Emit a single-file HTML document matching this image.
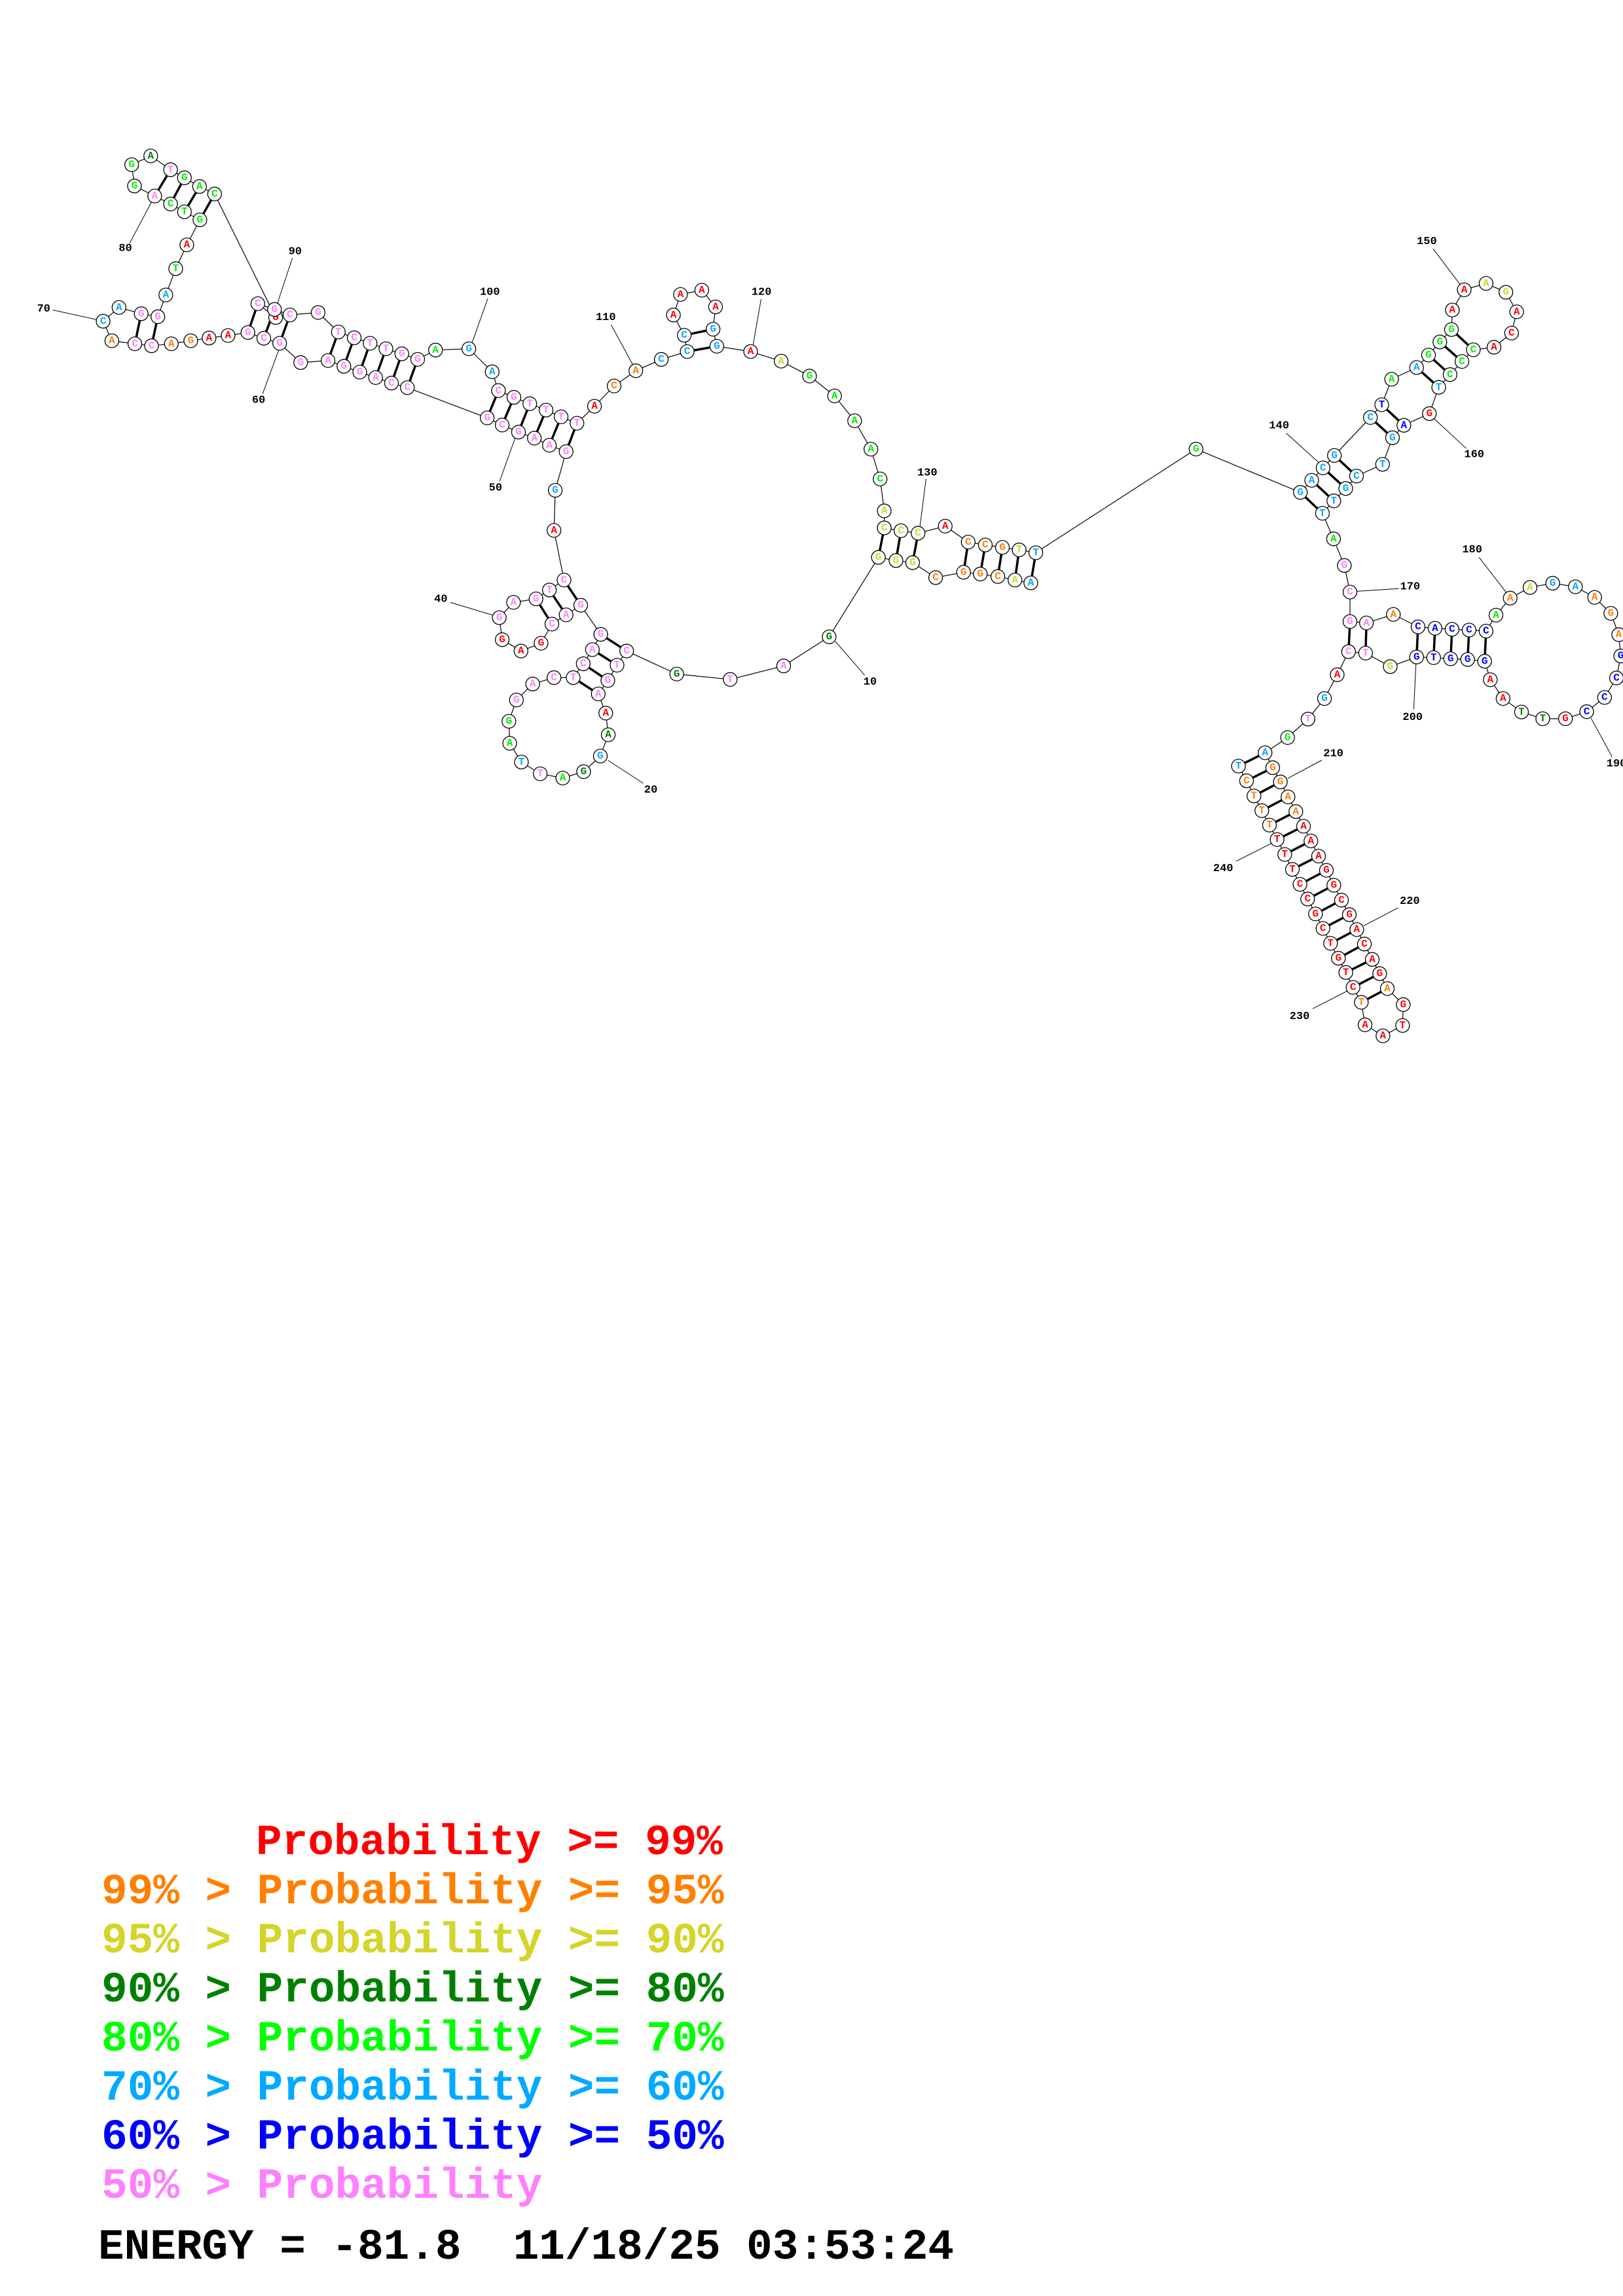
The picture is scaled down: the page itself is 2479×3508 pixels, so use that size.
<!DOCTYPE html>
<html><head><meta charset="utf-8"><style>
html,body{margin:0;padding:0;background:#fff;width:2479px;height:3508px;overflow:hidden}
svg{display:block}
circle{r:10.5px;fill:#fff;stroke:#000;stroke-width:1.3px}
.n text{font-family:"Liberation Mono",monospace;font-weight:bold;font-size:16px;text-anchor:middle;dominant-baseline:central}
.n text.lb{font-size:17px;fill:#000}
.r{fill:#ff0000}.o{fill:#ff8000}.y{fill:#d4d42a}.d{fill:#008000}.g{fill:#00ee00}.c{fill:#00aaff}.b{fill:#0000ff}.p{fill:#ff80ff}
.bb{fill:none;stroke:#000;stroke-width:1.2px}
.pr{stroke:#000;stroke-width:3.5px}
.ll{stroke:#000;stroke-width:1px}
.z1 .n>*{transform:scale(1.65053,2.61333)}
.z2 .n>*{transform:scale(1.568,1.84471)}
.z3 .n>*{transform:scale(2.30928,1.84471)}
.z4 .n>*{transform:scale(3,2.851)}
.leg{font-family:"Liberation Mono","Courier New",monospace;font-weight:bold;font-size:66px}
</style></head><body>
<svg width="2479" height="3508" viewBox="0 0 2479 3508" xmlns="http://www.w3.org/2000/svg">
<!-- cross-region backbone -->
<line class="bb" x1="744.1" y1="638.5" x2="622.4" y2="592.3"/>
<line class="bb" x1="716.4" y1="533.0" x2="751.8" y2="568.0"/>
<line class="bb" x1="1582.1" y1="844.4" x2="1826.9" y2="686.1"/>
<line class="bb" x1="1966.7" y1="1126.7" x2="1932.3" y2="1150.2"/>

<!-- REGION 1 -->
<g class="z1" transform="translate(0,200) scale(0.60586,0.38265)">
<polyline class="bb" vector-effect="non-scaling-stroke" points="1027,1025 987,1007 947,985 907,963 867,940 827,917 758,925 705,848 665,828 625,805 575,817 527,827 481,838 432,850 382,858 340,850 282,838 260,760 300,705 356,730 398,742 418,655 443,550 471,455 504,355 465,323 430,292 390,260 339,220 332,135 380,100 430,155 465,187 503,222 541,252 695,745 650,690 692,713 731,735 802,725 853,803 893,826 933,848 973,870 1013,890 1053,912 1098,875 1182,870"/>
<g vector-effect="non-scaling-stroke">
<line class="pr" vector-effect="non-scaling-stroke" x1="625" y1="805" x2="650" y2="690"/>
<line class="pr" vector-effect="non-scaling-stroke" x1="665" y1="828" x2="692" y2="713"/>
<line class="pr" vector-effect="non-scaling-stroke" x1="705" y1="848" x2="731" y2="735"/>
<line class="pr" vector-effect="non-scaling-stroke" x1="827" y1="917" x2="853" y2="803"/>
<line class="pr" vector-effect="non-scaling-stroke" x1="867" y1="940" x2="893" y2="826"/>
<line class="pr" vector-effect="non-scaling-stroke" x1="907" y1="963" x2="933" y2="848"/>
<line class="pr" vector-effect="non-scaling-stroke" x1="947" y1="985" x2="973" y2="870"/>
<line class="pr" vector-effect="non-scaling-stroke" x1="987" y1="1007" x2="1013" y2="890"/>
<line class="pr" vector-effect="non-scaling-stroke" x1="1027" y1="1025" x2="1053" y2="912"/>
<line class="pr" vector-effect="non-scaling-stroke" x1="340" y1="850" x2="356" y2="730"/>
<line class="pr" vector-effect="non-scaling-stroke" x1="382" y1="858" x2="398" y2="742"/>
<line class="pr" vector-effect="non-scaling-stroke" x1="390" y1="260" x2="430" y2="155"/>
<line class="pr" vector-effect="non-scaling-stroke" x1="430" y1="292" x2="465" y2="187"/>
<line class="pr" vector-effect="non-scaling-stroke" x1="465" y1="323" x2="503" y2="222"/>
<line class="pr" vector-effect="non-scaling-stroke" x1="504" y1="355" x2="541" y2="252"/>
</g>
<line class="ll" vector-effect="non-scaling-stroke" x1="327" y1="448" x2="385" y2="275"/>
<line class="ll" vector-effect="non-scaling-stroke" x1="737" y1="508" x2="697" y2="700"/>
<line class="ll" vector-effect="non-scaling-stroke" x1="133" y1="715" x2="248" y2="755"/>
<line class="ll" vector-effect="non-scaling-stroke" x1="662" y1="1050" x2="705" y2="865"/>
<line class="ll" vector-effect="non-scaling-stroke" x1="1230" y1="668" x2="1188" y2="855"/>
<g class="n" transform="translate(316,470)"><text class="lb">80</text></g>
<g class="n" transform="translate(744,483)"><text class="lb">90</text></g>
<g class="n" transform="translate(110,712)"><text class="lb">70</text></g>
<g class="n" transform="translate(652,1077)"><text class="lb">60</text></g>
<g class="n" transform="translate(1235,645)"><text class="lb">100</text></g>
<g class="n" transform="translate(1027,1025)"><circle/><text class="p">C</text></g>
<g class="n" transform="translate(987,1007)"><circle/><text class="p">C</text></g>
<g class="n" transform="translate(947,985)"><circle/><text class="p">A</text></g>
<g class="n" transform="translate(907,963)"><circle/><text class="p">G</text></g>
<g class="n" transform="translate(867,940)"><circle/><text class="p">G</text></g>
<g class="n" transform="translate(827,917)"><circle/><text class="p">A</text></g>
<g class="n" transform="translate(758,925)"><circle/><text class="p">G</text></g>
<g class="n" transform="translate(705,848)"><circle/><text class="p">G</text></g>
<g class="n" transform="translate(665,828)"><circle/><text class="p">C</text></g>
<g class="n" transform="translate(625,805)"><circle/><text class="p">G</text></g>
<g class="n" transform="translate(575,817)"><circle/><text class="r">A</text></g>
<g class="n" transform="translate(527,827)"><circle/><text class="r">A</text></g>
<g class="n" transform="translate(481,838)"><circle/><text class="o">G</text></g>
<g class="n" transform="translate(432,850)"><circle/><text class="o">A</text></g>
<g class="n" transform="translate(382,858)"><circle/><text class="p">C</text></g>
<g class="n" transform="translate(340,850)"><circle/><text class="p">C</text></g>
<g class="n" transform="translate(282,838)"><circle/><text class="o">A</text></g>
<g class="n" transform="translate(260,760)"><circle/><text class="c">C</text></g>
<g class="n" transform="translate(300,705)"><circle/><text class="c">A</text></g>
<g class="n" transform="translate(356,730)"><circle/><text class="p">G</text></g>
<g class="n" transform="translate(398,742)"><circle/><text class="p">G</text></g>
<g class="n" transform="translate(418,655)"><circle/><text class="c">A</text></g>
<g class="n" transform="translate(443,550)"><circle/><text class="g">T</text></g>
<g class="n" transform="translate(471,455)"><circle/><text class="r">A</text></g>
<g class="n" transform="translate(504,355)"><circle/><text class="g">G</text></g>
<g class="n" transform="translate(465,323)"><circle/><text class="g">T</text></g>
<g class="n" transform="translate(430,292)"><circle/><text class="g">C</text></g>
<g class="n" transform="translate(390,260)"><circle/><text class="p">A</text></g>
<g class="n" transform="translate(339,220)"><circle/><text class="g">G</text></g>
<g class="n" transform="translate(332,135)"><circle/><text class="g">G</text></g>
<g class="n" transform="translate(380,100)"><circle/><text class="d">A</text></g>
<g class="n" transform="translate(430,155)"><circle/><text class="p">T</text></g>
<g class="n" transform="translate(465,187)"><circle/><text class="g">G</text></g>
<g class="n" transform="translate(503,222)"><circle/><text class="g">A</text></g>
<g class="n" transform="translate(541,252)"><circle/><text class="g">C</text></g>
<g class="n" transform="translate(695,745)"><circle/><text class="r">G</text></g>
<g class="n" transform="translate(650,690)"><circle/><text class="p">C</text></g>
<g class="n" transform="translate(692,713)"><circle/><text class="p">G</text></g>
<g class="n" transform="translate(731,735)"><circle/><text class="p">C</text></g>
<g class="n" transform="translate(802,725)"><circle/><text class="p">G</text></g>
<g class="n" transform="translate(853,803)"><circle/><text class="p">T</text></g>
<g class="n" transform="translate(893,826)"><circle/><text class="p">C</text></g>
<g class="n" transform="translate(933,848)"><circle/><text class="p">T</text></g>
<g class="n" transform="translate(973,870)"><circle/><text class="p">T</text></g>
<g class="n" transform="translate(1013,890)"><circle/><text class="p">G</text></g>
<g class="n" transform="translate(1053,912)"><circle/><text class="p">G</text></g>
<g class="n" transform="translate(1098,875)"><circle/><text class="g">A</text></g>
<g class="n" transform="translate(1182,870)"><circle/><text class="c">G</text></g>
</g>

<!-- REGION 2 -->
<g class="z2" transform="translate(600,400) scale(0.63776,0.54209)">
<polyline class="bb" vector-effect="non-scaling-stroke" points="1528,905 1490,897 1449,887 1407,880 1367,875 1300,890 1245,848 1205,842 1163,833 1045,1057 936,1139 808,1177 680,1162 560,1097 537,1137 515,1180 492,1218 510,1272 516,1333 497,1393 457,1437 407,1455 353,1443 308,1410 280,1357 278,1295 296,1235 335,1190 386,1172 432,1172 456,1133 478,1093 498,1050 450,968 415,995 381,1021 355,1075 307,1097 262,1065 255,1003 289,960 343,950 375,925 410,897 386,757 389,644 415,535 375,517 339,497 301,480 262,460 226,440"/>
<polyline class="bb" vector-effect="non-scaling-stroke" points="238,310 253,363 290,382 328,400 367,418 403,437 441,455 483,407 530,350 582,307 643,275 705,253 698,207 672,150 689,92 740,80 773,127 767,190 776,238 857,253 930,280 998,322 1058,378 1106,448 1145,528 1167,612 1177,702 1177,750 1217,758 1258,765 1323,745 1378,790 1419,798 1460,805 1500,812 1540,820"/>
<line class="pr" vector-effect="non-scaling-stroke" x1="1378" y1="790" x2="1367" y2="875"/>
<line class="pr" vector-effect="non-scaling-stroke" x1="1419" y1="798" x2="1407" y2="880"/>
<line class="pr" vector-effect="non-scaling-stroke" x1="1460" y1="805" x2="1449" y2="887"/>
<line class="pr" vector-effect="non-scaling-stroke" x1="1500" y1="812" x2="1490" y2="897"/>
<line class="pr" vector-effect="non-scaling-stroke" x1="1540" y1="820" x2="1528" y2="905"/>
<line class="pr" vector-effect="non-scaling-stroke" x1="1177" y1="750" x2="1163" y2="833"/>
<line class="pr" vector-effect="non-scaling-stroke" x1="1217" y1="758" x2="1205" y2="842"/>
<line class="pr" vector-effect="non-scaling-stroke" x1="1258" y1="765" x2="1245" y2="848"/>
<line class="pr" vector-effect="non-scaling-stroke" x1="253" y1="363" x2="226" y2="440"/>
<line class="pr" vector-effect="non-scaling-stroke" x1="290" y1="382" x2="262" y2="460"/>
<line class="pr" vector-effect="non-scaling-stroke" x1="328" y1="400" x2="301" y2="480"/>
<line class="pr" vector-effect="non-scaling-stroke" x1="367" y1="418" x2="339" y2="497"/>
<line class="pr" vector-effect="non-scaling-stroke" x1="403" y1="437" x2="375" y2="517"/>
<line class="pr" vector-effect="non-scaling-stroke" x1="441" y1="455" x2="415" y2="535"/>
<line class="pr" vector-effect="non-scaling-stroke" x1="698" y1="207" x2="767" y2="190"/>
<line class="pr" vector-effect="non-scaling-stroke" x1="705" y1="253" x2="776" y2="238"/>
<line class="pr" vector-effect="non-scaling-stroke" x1="343" y1="950" x2="381" y2="1021"/>
<line class="pr" vector-effect="non-scaling-stroke" x1="375" y1="925" x2="415" y2="995"/>
<line class="pr" vector-effect="non-scaling-stroke" x1="410" y1="897" x2="450" y2="968"/>
<line class="pr" vector-effect="non-scaling-stroke" x1="498" y1="1050" x2="560" y2="1097"/>
<line class="pr" vector-effect="non-scaling-stroke" x1="478" y1="1093" x2="537" y2="1137"/>
<line class="pr" vector-effect="non-scaling-stroke" x1="456" y1="1133" x2="515" y2="1180"/>
<line class="pr" vector-effect="non-scaling-stroke" x1="432" y1="1172" x2="492" y2="1218"/>
<line class="ll" vector-effect="non-scaling-stroke" x1="256" y1="618" x2="295" y2="490"/>
<line class="ll" vector-effect="non-scaling-stroke" x1="138" y1="960" x2="245" y2="998"/>
<line class="ll" vector-effect="non-scaling-stroke" x1="600" y1="1470" x2="515" y2="1405"/>
<line class="ll" vector-effect="non-scaling-stroke" x1="1130" y1="1165" x2="1060" y2="1070"/>
<line class="ll" vector-effect="non-scaling-stroke" x1="523" y1="178" x2="577" y2="295"/>
<line class="ll" vector-effect="non-scaling-stroke" x1="882" y1="105" x2="862" y2="240"/>
<line class="ll" vector-effect="non-scaling-stroke" x1="1277" y1="612" x2="1262" y2="750"/>
<g class="n" transform="translate(246,638)"><text class="lb">50</text></g>
<g class="n" transform="translate(115,952)"><text class="lb">40</text></g>
<g class="n" transform="translate(618,1490)"><text class="lb">20</text></g>
<g class="n" transform="translate(1143,1185)"><text class="lb">10</text></g>
<g class="n" transform="translate(510,158)"><text class="lb">110</text></g>
<g class="n" transform="translate(883,87)"><text class="lb">120</text></g>
<g class="n" transform="translate(1280,596)"><text class="lb">130</text></g>
<g class="n" transform="translate(1528,905)"><circle/><text class="c">A</text></g>
<g class="n" transform="translate(1490,897)"><circle/><text class="y">A</text></g>
<g class="n" transform="translate(1449,887)"><circle/><text class="o">C</text></g>
<g class="n" transform="translate(1407,880)"><circle/><text class="o">G</text></g>
<g class="n" transform="translate(1367,875)"><circle/><text class="o">G</text></g>
<g class="n" transform="translate(1300,890)"><circle/><text class="o">C</text></g>
<g class="n" transform="translate(1245,848)"><circle/><text class="y">G</text></g>
<g class="n" transform="translate(1205,842)"><circle/><text class="y">G</text></g>
<g class="n" transform="translate(1163,833)"><circle/><text class="y">G</text></g>
<g class="n" transform="translate(1045,1057)"><circle/><text class="d">G</text></g>
<g class="n" transform="translate(936,1139)"><circle/><text class="p">A</text></g>
<g class="n" transform="translate(808,1177)"><circle/><text class="p">T</text></g>
<g class="n" transform="translate(680,1162)"><circle/><text class="d">G</text></g>
<g class="n" transform="translate(560,1097)"><circle/><text class="p">C</text></g>
<g class="n" transform="translate(537,1137)"><circle/><text class="p">T</text></g>
<g class="n" transform="translate(515,1180)"><circle/><text class="p">G</text></g>
<g class="n" transform="translate(492,1218)"><circle/><text class="p">A</text></g>
<g class="n" transform="translate(510,1272)"><circle/><text class="r">A</text></g>
<g class="n" transform="translate(516,1333)"><circle/><text class="d">A</text></g>
<g class="n" transform="translate(497,1393)"><circle/><text class="c">G</text></g>
<g class="n" transform="translate(457,1437)"><circle/><text class="d">G</text></g>
<g class="n" transform="translate(407,1455)"><circle/><text class="g">A</text></g>
<g class="n" transform="translate(353,1443)"><circle/><text class="p">T</text></g>
<g class="n" transform="translate(308,1410)"><circle/><text class="c">T</text></g>
<g class="n" transform="translate(280,1357)"><circle/><text class="g">A</text></g>
<g class="n" transform="translate(278,1295)"><circle/><text class="g">G</text></g>
<g class="n" transform="translate(296,1235)"><circle/><text class="p">G</text></g>
<g class="n" transform="translate(335,1190)"><circle/><text class="p">A</text></g>
<g class="n" transform="translate(386,1172)"><circle/><text class="p">C</text></g>
<g class="n" transform="translate(432,1172)"><circle/><text class="p">T</text></g>
<g class="n" transform="translate(456,1133)"><circle/><text class="p">C</text></g>
<g class="n" transform="translate(478,1093)"><circle/><text class="p">A</text></g>
<g class="n" transform="translate(498,1050)"><circle/><text class="p">G</text></g>
<g class="n" transform="translate(450,968)"><circle/><text class="p">G</text></g>
<g class="n" transform="translate(415,995)"><circle/><text class="p">A</text></g>
<g class="n" transform="translate(381,1021)"><circle/><text class="p">C</text></g>
<g class="n" transform="translate(355,1075)"><circle/><text class="r">G</text></g>
<g class="n" transform="translate(307,1097)"><circle/><text class="r">A</text></g>
<g class="n" transform="translate(262,1065)"><circle/><text class="r">G</text></g>
<g class="n" transform="translate(255,1003)"><circle/><text class="p">G</text></g>
<g class="n" transform="translate(289,960)"><circle/><text class="p">A</text></g>
<g class="n" transform="translate(343,950)"><circle/><text class="p">G</text></g>
<g class="n" transform="translate(375,925)"><circle/><text class="p">T</text></g>
<g class="n" transform="translate(410,897)"><circle/><text class="p">C</text></g>
<g class="n" transform="translate(386,757)"><circle/><text class="r">A</text></g>
<g class="n" transform="translate(389,644)"><circle/><text class="c">G</text></g>
<g class="n" transform="translate(415,535)"><circle/><text class="p">G</text></g>
<g class="n" transform="translate(375,517)"><circle/><text class="p">A</text></g>
<g class="n" transform="translate(339,497)"><circle/><text class="p">A</text></g>
<g class="n" transform="translate(301,480)"><circle/><text class="p">G</text></g>
<g class="n" transform="translate(262,460)"><circle/><text class="p">C</text></g>
<g class="n" transform="translate(226,440)"><circle/><text class="p">G</text></g>
<g class="n" transform="translate(238,310)"><circle/><text class="c">A</text></g>
<g class="n" transform="translate(253,363)"><circle/><text class="p">C</text></g>
<g class="n" transform="translate(290,382)"><circle/><text class="p">G</text></g>
<g class="n" transform="translate(328,400)"><circle/><text class="p">T</text></g>
<g class="n" transform="translate(367,418)"><circle/><text class="p">T</text></g>
<g class="n" transform="translate(403,437)"><circle/><text class="p">T</text></g>
<g class="n" transform="translate(441,455)"><circle/><text class="p">T</text></g>
<g class="n" transform="translate(483,407)"><circle/><text class="r">A</text></g>
<g class="n" transform="translate(530,350)"><circle/><text class="o">C</text></g>
<g class="n" transform="translate(582,307)"><circle/><text class="o">A</text></g>
<g class="n" transform="translate(643,275)"><circle/><text class="c">C</text></g>
<g class="n" transform="translate(705,253)"><circle/><text class="c">C</text></g>
<g class="n" transform="translate(698,207)"><circle/><text class="c">C</text></g>
<g class="n" transform="translate(672,150)"><circle/><text class="r">A</text></g>
<g class="n" transform="translate(689,92)"><circle/><text class="r">A</text></g>
<g class="n" transform="translate(740,80)"><circle/><text class="r">A</text></g>
<g class="n" transform="translate(773,127)"><circle/><text class="r">A</text></g>
<g class="n" transform="translate(767,190)"><circle/><text class="c">G</text></g>
<g class="n" transform="translate(776,238)"><circle/><text class="c">G</text></g>
<g class="n" transform="translate(857,253)"><circle/><text class="r">A</text></g>
<g class="n" transform="translate(930,280)"><circle/><text class="y">A</text></g>
<g class="n" transform="translate(998,322)"><circle/><text class="g">G</text></g>
<g class="n" transform="translate(1058,378)"><circle/><text class="g">A</text></g>
<g class="n" transform="translate(1106,448)"><circle/><text class="g">A</text></g>
<g class="n" transform="translate(1145,528)"><circle/><text class="g">A</text></g>
<g class="n" transform="translate(1167,612)"><circle/><text class="g">C</text></g>
<g class="n" transform="translate(1177,702)"><circle/><text class="y">A</text></g>
<g class="n" transform="translate(1177,750)"><circle/><text class="y">C</text></g>
<g class="n" transform="translate(1217,758)"><circle/><text class="y">C</text></g>
<g class="n" transform="translate(1258,765)"><circle/><text class="y">C</text></g>
<g class="n" transform="translate(1323,745)"><circle/><text class="r">A</text></g>
<g class="n" transform="translate(1378,790)"><circle/><text class="o">C</text></g>
<g class="n" transform="translate(1419,798)"><circle/><text class="o">C</text></g>
<g class="n" transform="translate(1460,805)"><circle/><text class="o">G</text></g>
<g class="n" transform="translate(1500,812)"><circle/><text class="y">T</text></g>
<g class="n" transform="translate(1540,820)"><circle/><text class="c">T</text></g>
</g>

<!-- REGION 3 -->
<g class="z3" transform="translate(1800,330) scale(0.43304,0.54209)">
<polyline class="bb" vector-effect="non-scaling-stroke" points="62,657 430,779 470,745 510,710 550,675 677,568 717,532 752,460 840,427 882,392 922,355 963,320 966,265 1008,208 1085,190 1155,215 1193,270 1175,330 1113,370 1040,377 1000,410 958,447 918,483 885,557 795,590 755,625 720,700 628,733 590,768 548,803 508,838 547,910 585,985 605,1060 605,1143 663,1147 758,1123 845,1158 905,1162 965,1165 1025,1167 1085,1170 1120,1125 1170,1077 1240,1047 1320,1035 1400,1045 1468,1075 1525,1120 1553,1180 1560,1240 1545,1302 1503,1357 1440,1397 1365,1417 1285,1417 1210,1398 1145,1360 1100,1307 1080,1255 1020,1250 960,1248 900,1245 840,1243 747,1270 660,1232 600,1228 560,1293 515,1360 457,1418 385,1470"/>
<line class="pr" vector-effect="non-scaling-stroke" x1="430" y1="779" x2="508" y2="838"/>
<line class="pr" vector-effect="non-scaling-stroke" x1="470" y1="745" x2="548" y2="803"/>
<line class="pr" vector-effect="non-scaling-stroke" x1="510" y1="710" x2="590" y2="768"/>
<line class="pr" vector-effect="non-scaling-stroke" x1="550" y1="675" x2="628" y2="733"/>
<line class="pr" vector-effect="non-scaling-stroke" x1="677" y1="568" x2="755" y2="625"/>
<line class="pr" vector-effect="non-scaling-stroke" x1="717" y1="532" x2="795" y2="590"/>
<line class="pr" vector-effect="non-scaling-stroke" x1="840" y1="427" x2="918" y2="483"/>
<line class="pr" vector-effect="non-scaling-stroke" x1="882" y1="392" x2="958" y2="447"/>
<line class="pr" vector-effect="non-scaling-stroke" x1="922" y1="355" x2="1000" y2="410"/>
<line class="pr" vector-effect="non-scaling-stroke" x1="963" y1="320" x2="1040" y2="377"/>
<line class="pr" vector-effect="non-scaling-stroke" x1="605" y1="1143" x2="600" y2="1228"/>
<line class="pr" vector-effect="non-scaling-stroke" x1="663" y1="1147" x2="660" y2="1232"/>
<line class="pr" vector-effect="non-scaling-stroke" x1="845" y1="1158" x2="840" y2="1243"/>
<line class="pr" vector-effect="non-scaling-stroke" x1="905" y1="1162" x2="900" y2="1245"/>
<line class="pr" vector-effect="non-scaling-stroke" x1="965" y1="1165" x2="960" y2="1248"/>
<line class="pr" vector-effect="non-scaling-stroke" x1="1025" y1="1167" x2="1020" y2="1250"/>
<line class="pr" vector-effect="non-scaling-stroke" x1="1085" y1="1170" x2="1080" y2="1255"/>
<line class="ll" vector-effect="non-scaling-stroke" x1="898" y1="92" x2="995" y2="195"/>
<line class="ll" vector-effect="non-scaling-stroke" x1="380" y1="612" x2="495" y2="695"/>
<line class="ll" vector-effect="non-scaling-stroke" x1="1015" y1="655" x2="900" y2="570"/>
<line class="ll" vector-effect="non-scaling-stroke" x1="1060" y1="962" x2="1160" y2="1065"/>
<line class="ll" vector-effect="non-scaling-stroke" x1="778" y1="1050" x2="625" y2="1058"/>
<line class="ll" vector-effect="non-scaling-stroke" x1="830" y1="1390" x2="838" y2="1258"/>
<line class="ll" vector-effect="non-scaling-stroke" x1="1530" y1="1525" x2="1455" y2="1415"/>
<g class="n" transform="translate(876,73)"><text class="lb">150</text></g>
<g class="n" transform="translate(355,592)"><text class="lb">140</text></g>
<g class="n" transform="translate(1043,673)"><text class="lb">160</text></g>
<g class="n" transform="translate(1036,942)"><text class="lb">180</text></g>
<g class="n" transform="translate(817,1046)"><text class="lb">170</text></g>
<g class="n" transform="translate(826,1414)"><text class="lb">200</text></g>
<g class="n" transform="translate(1545,1545)"><text class="lb">190</text></g>
<g class="n" transform="translate(62,657)"><circle/><text class="g">G</text></g>
<g class="n" transform="translate(430,779)"><circle/><text class="c">G</text></g>
<g class="n" transform="translate(470,745)"><circle/><text class="c">A</text></g>
<g class="n" transform="translate(510,710)"><circle/><text class="c">C</text></g>
<g class="n" transform="translate(550,675)"><circle/><text class="c">G</text></g>
<g class="n" transform="translate(677,568)"><circle/><text class="c">C</text></g>
<g class="n" transform="translate(717,532)"><circle/><text class="b">T</text></g>
<g class="n" transform="translate(752,460)"><circle/><text class="g">A</text></g>
<g class="n" transform="translate(840,427)"><circle/><text class="c">A</text></g>
<g class="n" transform="translate(882,392)"><circle/><text class="g">G</text></g>
<g class="n" transform="translate(922,355)"><circle/><text class="g">G</text></g>
<g class="n" transform="translate(963,320)"><circle/><text class="g">G</text></g>
<g class="n" transform="translate(966,265)"><circle/><text class="r">A</text></g>
<g class="n" transform="translate(1008,208)"><circle/><text class="r">A</text></g>
<g class="n" transform="translate(1085,190)"><circle/><text class="y">A</text></g>
<g class="n" transform="translate(1155,215)"><circle/><text class="y">G</text></g>
<g class="n" transform="translate(1193,270)"><circle/><text class="r">A</text></g>
<g class="n" transform="translate(1175,330)"><circle/><text class="r">C</text></g>
<g class="n" transform="translate(1113,370)"><circle/><text class="r">A</text></g>
<g class="n" transform="translate(1040,377)"><circle/><text class="g">C</text></g>
<g class="n" transform="translate(1000,410)"><circle/><text class="g">C</text></g>
<g class="n" transform="translate(958,447)"><circle/><text class="g">C</text></g>
<g class="n" transform="translate(918,483)"><circle/><text class="c">T</text></g>
<g class="n" transform="translate(885,557)"><circle/><text class="r">G</text></g>
<g class="n" transform="translate(795,590)"><circle/><text class="b">A</text></g>
<g class="n" transform="translate(755,625)"><circle/><text class="c">G</text></g>
<g class="n" transform="translate(720,700)"><circle/><text class="c">T</text></g>
<g class="n" transform="translate(628,733)"><circle/><text class="c">C</text></g>
<g class="n" transform="translate(590,768)"><circle/><text class="c">G</text></g>
<g class="n" transform="translate(548,803)"><circle/><text class="c">T</text></g>
<g class="n" transform="translate(508,838)"><circle/><text class="c">T</text></g>
<g class="n" transform="translate(547,910)"><circle/><text class="g">A</text></g>
<g class="n" transform="translate(585,985)"><circle/><text class="p">G</text></g>
<g class="n" transform="translate(605,1060)"><circle/><text class="p">C</text></g>
<g class="n" transform="translate(605,1143)"><circle/><text class="p">G</text></g>
<g class="n" transform="translate(663,1147)"><circle/><text class="p">A</text></g>
<g class="n" transform="translate(758,1123)"><circle/><text class="o">A</text></g>
<g class="n" transform="translate(845,1158)"><circle/><text class="b">C</text></g>
<g class="n" transform="translate(905,1162)"><circle/><text class="b">A</text></g>
<g class="n" transform="translate(965,1165)"><circle/><text class="b">C</text></g>
<g class="n" transform="translate(1025,1167)"><circle/><text class="b">C</text></g>
<g class="n" transform="translate(1085,1170)"><circle/><text class="b">C</text></g>
<g class="n" transform="translate(1120,1125)"><circle/><text class="g">A</text></g>
<g class="n" transform="translate(1170,1077)"><circle/><text class="o">A</text></g>
<g class="n" transform="translate(1240,1047)"><circle/><text class="y">A</text></g>
<g class="n" transform="translate(1320,1035)"><circle/><text class="c">G</text></g>
<g class="n" transform="translate(1400,1045)"><circle/><text class="c">A</text></g>
<g class="n" transform="translate(1468,1075)"><circle/><text class="o">A</text></g>
<g class="n" transform="translate(1525,1120)"><circle/><text class="o">G</text></g>
<g class="n" transform="translate(1553,1180)"><circle/><text class="o">A</text></g>
<g class="n" transform="translate(1560,1240)"><circle/><text class="b">G</text></g>
<g class="n" transform="translate(1545,1302)"><circle/><text class="b">C</text></g>
<g class="n" transform="translate(1503,1357)"><circle/><text class="b">C</text></g>
<g class="n" transform="translate(1440,1397)"><circle/><text class="b">C</text></g>
<g class="n" transform="translate(1365,1417)"><circle/><text class="r">G</text></g>
<g class="n" transform="translate(1285,1417)"><circle/><text class="d">T</text></g>
<g class="n" transform="translate(1210,1398)"><circle/><text class="d">T</text></g>
<g class="n" transform="translate(1145,1360)"><circle/><text class="r">A</text></g>
<g class="n" transform="translate(1100,1307)"><circle/><text class="r">A</text></g>
<g class="n" transform="translate(1080,1255)"><circle/><text class="b">G</text></g>
<g class="n" transform="translate(1020,1250)"><circle/><text class="b">G</text></g>
<g class="n" transform="translate(960,1248)"><circle/><text class="b">G</text></g>
<g class="n" transform="translate(900,1245)"><circle/><text class="b">T</text></g>
<g class="n" transform="translate(840,1243)"><circle/><text class="b">G</text></g>
<g class="n" transform="translate(747,1270)"><circle/><text class="y">G</text></g>
<g class="n" transform="translate(660,1232)"><circle/><text class="p">T</text></g>
<g class="n" transform="translate(600,1228)"><circle/><text class="p">C</text></g>
<g class="n" transform="translate(560,1293)"><circle/><text class="r">A</text></g>
<g class="n" transform="translate(515,1360)"><circle/><text class="c">G</text></g>
<g class="n" transform="translate(457,1418)"><circle/><text class="p">T</text></g>
<g class="n" transform="translate(385,1470)"><circle/><text class="g">G</text></g>
</g>

<!-- REGION 4 -->
<g class="z4" transform="translate(1800,1080) scale(0.33333,0.35075)">
<polyline class="bb" vector-effect="non-scaling-stroke" points="397,200 432,265 467,327 502,392 538,456 573,520 607,584 642,650 678,712 712,777 747,842 783,905 817,970 852,1033 888,1100 922,1162 957,1227 1030,1297 1027,1388 937,1433 855,1385 838,1287 800,1222 767,1157 733,1095 697,1030 662,965 628,902 592,837 557,773 522,708 487,643 452,578 417,515 382,452 346,388 312,322 275,258"/>
<line class="pr" vector-effect="non-scaling-stroke" x1="397" y1="200" x2="275" y2="258"/>
<line class="pr" vector-effect="non-scaling-stroke" x1="432" y1="265" x2="312" y2="322"/>
<line class="pr" vector-effect="non-scaling-stroke" x1="467" y1="327" x2="346" y2="388"/>
<line class="pr" vector-effect="non-scaling-stroke" x1="502" y1="392" x2="382" y2="452"/>
<line class="pr" vector-effect="non-scaling-stroke" x1="538" y1="456" x2="417" y2="515"/>
<line class="pr" vector-effect="non-scaling-stroke" x1="573" y1="520" x2="452" y2="578"/>
<line class="pr" vector-effect="non-scaling-stroke" x1="607" y1="584" x2="487" y2="643"/>
<line class="pr" vector-effect="non-scaling-stroke" x1="642" y1="650" x2="522" y2="708"/>
<line class="pr" vector-effect="non-scaling-stroke" x1="678" y1="712" x2="557" y2="773"/>
<line class="pr" vector-effect="non-scaling-stroke" x1="712" y1="777" x2="592" y2="837"/>
<line class="pr" vector-effect="non-scaling-stroke" x1="747" y1="842" x2="628" y2="902"/>
<line class="pr" vector-effect="non-scaling-stroke" x1="783" y1="905" x2="662" y2="965"/>
<line class="pr" vector-effect="non-scaling-stroke" x1="817" y1="970" x2="697" y2="1030"/>
<line class="pr" vector-effect="non-scaling-stroke" x1="852" y1="1033" x2="733" y2="1095"/>
<line class="pr" vector-effect="non-scaling-stroke" x1="888" y1="1100" x2="767" y2="1157"/>
<line class="pr" vector-effect="non-scaling-stroke" x1="922" y1="1162" x2="800" y2="1222"/>
<line class="pr" vector-effect="non-scaling-stroke" x1="957" y1="1227" x2="838" y2="1287"/>
<line class="ll" vector-effect="non-scaling-stroke" x1="657" y1="232" x2="500" y2="312"/>
<line class="ll" vector-effect="non-scaling-stroke" x1="1007" y1="875" x2="850" y2="953"/>
<line class="ll" vector-effect="non-scaling-stroke" x1="615" y1="1315" x2="775" y2="1237"/>
<line class="ll" vector-effect="non-scaling-stroke" x1="265" y1="672" x2="425" y2="595"/>
<g class="n" transform="translate(710,205)"><text class="lb">210</text></g>
<g class="n" transform="translate(1060,848)"><text class="lb">220</text></g>
<g class="n" transform="translate(555,1350)"><text class="lb">230</text></g>
<g class="n" transform="translate(205,705)"><text class="lb">240</text></g>
<g class="n" transform="translate(397,200)"><circle/><text class="c">A</text></g>
<g class="n" transform="translate(432,265)"><circle/><text class="o">G</text></g>
<g class="n" transform="translate(467,327)"><circle/><text class="o">G</text></g>
<g class="n" transform="translate(502,392)"><circle/><text class="o">A</text></g>
<g class="n" transform="translate(538,456)"><circle/><text class="o">A</text></g>
<g class="n" transform="translate(573,520)"><circle/><text class="r">A</text></g>
<g class="n" transform="translate(607,584)"><circle/><text class="r">A</text></g>
<g class="n" transform="translate(642,650)"><circle/><text class="r">A</text></g>
<g class="n" transform="translate(678,712)"><circle/><text class="r">G</text></g>
<g class="n" transform="translate(712,777)"><circle/><text class="r">G</text></g>
<g class="n" transform="translate(747,842)"><circle/><text class="r">C</text></g>
<g class="n" transform="translate(783,905)"><circle/><text class="r">G</text></g>
<g class="n" transform="translate(817,970)"><circle/><text class="r">A</text></g>
<g class="n" transform="translate(852,1033)"><circle/><text class="r">C</text></g>
<g class="n" transform="translate(888,1100)"><circle/><text class="r">A</text></g>
<g class="n" transform="translate(922,1162)"><circle/><text class="r">G</text></g>
<g class="n" transform="translate(957,1227)"><circle/><text class="o">A</text></g>
<g class="n" transform="translate(1030,1297)"><circle/><text class="r">G</text></g>
<g class="n" transform="translate(1027,1388)"><circle/><text class="r">T</text></g>
<g class="n" transform="translate(937,1433)"><circle/><text class="r">A</text></g>
<g class="n" transform="translate(855,1385)"><circle/><text class="r">A</text></g>
<g class="n" transform="translate(838,1287)"><circle/><text class="o">T</text></g>
<g class="n" transform="translate(800,1222)"><circle/><text class="r">C</text></g>
<g class="n" transform="translate(767,1157)"><circle/><text class="r">T</text></g>
<g class="n" transform="translate(733,1095)"><circle/><text class="r">G</text></g>
<g class="n" transform="translate(697,1030)"><circle/><text class="r">T</text></g>
<g class="n" transform="translate(662,965)"><circle/><text class="r">C</text></g>
<g class="n" transform="translate(628,902)"><circle/><text class="r">G</text></g>
<g class="n" transform="translate(592,837)"><circle/><text class="r">C</text></g>
<g class="n" transform="translate(557,773)"><circle/><text class="r">C</text></g>
<g class="n" transform="translate(522,708)"><circle/><text class="r">T</text></g>
<g class="n" transform="translate(487,643)"><circle/><text class="r">T</text></g>
<g class="n" transform="translate(452,578)"><circle/><text class="r">T</text></g>
<g class="n" transform="translate(417,515)"><circle/><text class="o">T</text></g>
<g class="n" transform="translate(382,452)"><circle/><text class="o">T</text></g>
<g class="n" transform="translate(346,388)"><circle/><text class="o">T</text></g>
<g class="n" transform="translate(312,322)"><circle/><text class="o">C</text></g>
<g class="n" transform="translate(275,258)"><circle/><text class="c">T</text></g>
</g>

<!-- LEGEND -->
<g class="leg">
<text x="391" y="2833" class="r" xml:space="preserve">Probability &gt;= 99%</text>
<text x="155" y="2908" class="o" xml:space="preserve">99% &gt; Probability &gt;= 95%</text>
<text x="155" y="2983" class="y" xml:space="preserve">95% &gt; Probability &gt;= 90%</text>
<text x="155" y="3058" class="d" xml:space="preserve">90% &gt; Probability &gt;= 80%</text>
<text x="155" y="3133" class="g" xml:space="preserve" style="fill:#00ff00">80% &gt; Probability &gt;= 70%</text>
<text x="155" y="3208" class="c" xml:space="preserve">70% &gt; Probability &gt;= 60%</text>
<text x="155" y="3283" class="b" xml:space="preserve">60% &gt; Probability &gt;= 50%</text>
<text x="155" y="3358" class="p" xml:space="preserve">50% &gt; Probability</text>
<text x="150" y="3451" fill="#000" xml:space="preserve">ENERGY = -81.8  11/18/25 03:53:24</text>
</g>
</svg>
</body></html>
